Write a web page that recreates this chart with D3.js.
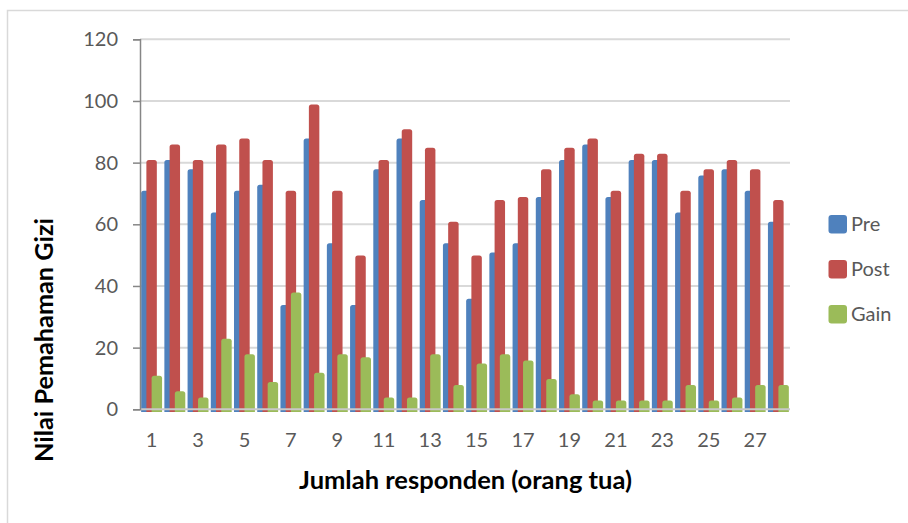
<!DOCTYPE html>
<html>
<head>
<meta charset="utf-8">
<script src="https://cdnjs.cloudflare.com/ajax/libs/d3/7.8.5/d3.min.js"></script>
<style>
  html, body { margin: 0; padding: 0; background: #fff; }
  svg { display: block; }
  text { font-family: Lato, "Open Sans", sans-serif; }
</style>
</head>
<body>
<svg id="chart" width="908" height="523"></svg>
<script>
const categories = d3.range(1, 29).map(String);
const preValues  = [70,80,77,63,70,72,33,87,53,33,77,87,67,53,35,50,53,68,80,85,68,80,80,63,75,77,70,60];
const postValues = [80,85,80,85,87,80,70,98,70,49,80,90,84,60,49,67,68,77,84,87,70,82,82,70,77,80,77,67];
const gainValues = [10,5,3,22,17,8,37,11,17,16,3,3,17,7,14,17,15,9,4,2,2,2,2,7,2,3,7,7];
const seriesNames = ["Pre", "Post", "Gain"];
const seriesColors = ["#4f81bd", "#c0504d", "#9bbb59"];
const yTicks = [0, 20, 40, 60, 80, 100, 120];
const xTickLabels = ["1","3","5","7","9","11","13","15","17","19","21","23","25","27"];

const series = [preValues, postValues, gainValues];

const svg = d3.select("#chart");
const pLeft = 140, pRight = 790, pTop = 39.3, pBottom = 409.3;

// chart border (only top/left visible in frame)
svg.append("rect").attr("x", 7.5).attr("y", 10.5).attr("width", 1000).attr("height", 1000)
  .attr("fill", "none").attr("stroke", "#d9d9d9").attr("stroke-width", 1.5);

const x = d3.scaleBand().domain(categories).range([pLeft, pRight]).paddingInner(0).paddingOuter(0);
const y = d3.scaleLinear().domain([0, 120]).range([pBottom, pTop]);

// gridlines
svg.append("g").selectAll("line").data(yTicks.filter(d => d > 0)).join("line")
  .attr("x1", pLeft).attr("x2", pRight)
  .attr("y1", d => y(d)).attr("y2", d => y(d))
  .attr("stroke", "#d9d9d9").attr("stroke-width", 2);

// bars: 3 bars with 50% overlap
const bw = x.bandwidth();
const barW = bw / 2.22;
const step = barW / 2;
const startOff = (bw - (barW + 2 * step)) / 2;
const ext = 2.6;

series.forEach((vals, si) => {
  svg.append("g").selectAll("path").data(vals).join("path")
    .attr("fill", seriesColors[si])
    .attr("d", (v, i) => {
      const x0 = x(categories[i]) + startOff + si * step;
      const y0 = y(v) - ext;
      const y1 = y(0) + ext;
      const r = 2.5;
      return `M${x0},${y1} L${x0},${y0 + r} Q${x0},${y0} ${x0 + r},${y0} L${x0 + barW - r},${y0} Q${x0 + barW},${y0} ${x0 + barW},${y0 + r} L${x0 + barW},${y1} Z`;
    });
});

// x axis line
svg.append("line").attr("x1", pLeft).attr("x2", pRight).attr("y1", pBottom).attr("y2", pBottom)
  .attr("stroke", "#c8c8c8").attr("stroke-width", 2);

// y axis
const yAxis = svg.append("g").attr("transform", `translate(${pLeft},0)`)
  .call(d3.axisLeft(y).tickValues(yTicks).tickSize(7).tickPadding(15));
yAxis.select(".domain").attr("stroke", "#868686").attr("stroke-width", 1.5);
yAxis.selectAll(".tick line").attr("stroke", "#868686").attr("stroke-width", 1.5);
yAxis.selectAll(".tick text").attr("fill", "#595959").style("font-size", "20px")
  .style("font-family", "Lato, 'Open Sans', sans-serif");

// x axis labels
const xAxis = svg.append("g").attr("transform", `translate(0,${pBottom})`)
  .call(d3.axisBottom(x).tickValues(xTickLabels).tickSize(0).tickPadding(24));
xAxis.select(".domain").remove();
xAxis.selectAll(".tick text").attr("fill", "#595959").attr("dy", "0.71em").style("font-size", "20px")
  .style("font-family", "Lato, 'Open Sans', sans-serif");

// titles
function fitText(sel, target) {
  const len = sel.node().getComputedTextLength();
  const fs = parseFloat(sel.style("font-size"));
  sel.style("font-size", (fs * target / len) + "px");
}
const xt = svg.append("text").attr("x", 465.5).attr("y", 489).attr("text-anchor", "middle")
  .attr("fill", "#000").style("font-weight", "bold").style("font-size", "22px")
  .text("Jumlah responden (orang tua)");
fitText(xt, 333);

const yt = svg.append("text").attr("transform", "translate(53,340) rotate(-90)").attr("text-anchor", "middle")
  .attr("fill", "#000").style("font-weight", "bold").style("font-size", "22px")
  .text("Nilai Pemahaman Gizi");
fitText(yt, 244);

// legend
const lg = svg.append("g");
seriesNames.forEach((name, i) => {
  const cy = 224 + i * 45;
  lg.append("rect").attr("x", 828.5).attr("y", cy - 9).attr("width", 18.5).attr("height", 18.5)
    .attr("rx", 3).attr("fill", seriesColors[i]);
  lg.append("text").attr("x", 851).attr("y", cy + 7).attr("fill", "#595959")
    .style("font-size", "20px").text(name);
});
</script>
</body>
</html>
